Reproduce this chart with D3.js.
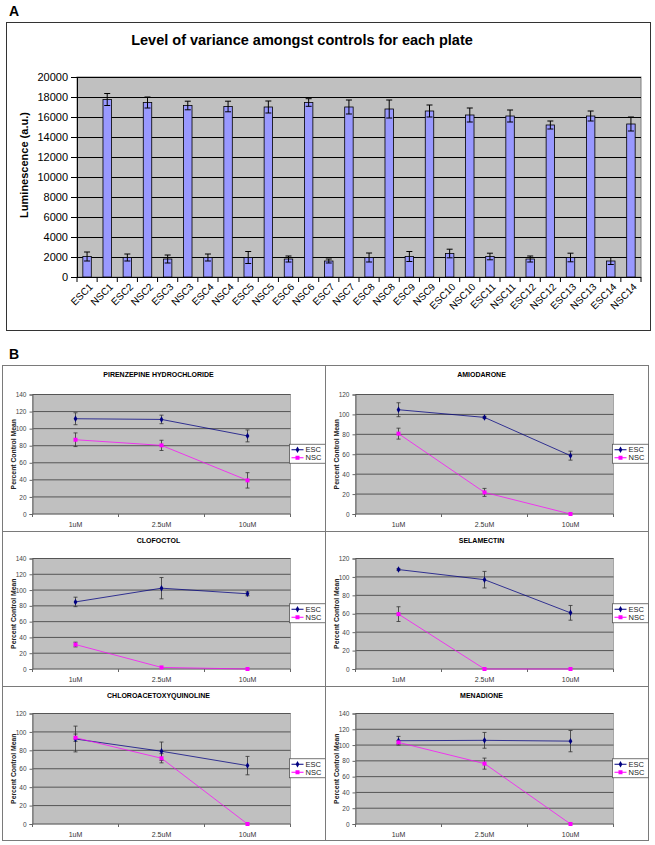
<!DOCTYPE html>
<html><head><meta charset="utf-8">
<script src="https://cdn.jsdelivr.net/npm/d3@7"></script>
<style>
body{margin:0;background:#fff}
svg{display:block}
text{font-family:"Liberation Sans",Arial,sans-serif}
</style>
</head><body>
<svg id="c" width="655" height="845"></svg>
<script>
// ---------- Panel A data ----------
const plateCategories = ["ESC1","NSC1","ESC2","NSC2","ESC3","NSC3","ESC4","NSC4","ESC5","NSC5","ESC6","NSC6","ESC7","NSC7","ESC8","NSC8","ESC9","NSC9","ESC10","NSC10","ESC11","NSC11","ESC12","NSC12","ESC13","NSC13","ESC14","NSC14"];
const plateValues = [2050,17750,1950,17450,1800,17150,1950,17050,1950,17000,1800,17450,1600,17000,1950,16800,2050,16600,2350,16200,2050,16100,1800,15200,1950,16100,1600,15300];
const plateErrors = [450,600,350,550,400,430,350,530,600,600,300,380,200,700,450,900,500,600,430,700,330,600,300,400,430,500,350,700];
const plateTicks = [0,2000,4000,6000,8000,10000,12000,14000,16000,18000,20000];

// ---------- Panel B data ----------
const drugs = ["PIRENZEPINE HYDROCHLORIDE","AMIODARONE","CLOFOCTOL","SELAMECTIN","CHLOROACETOXYQUINOLINE","MENADIONE"];
const doses = ["1uM","2.5uM","10uM"];
const seriesNames = ["ESC","NSC"];
const yMaxB = [140,120,140,120,120,140];
const escB = [[111.6,110.8,91.5],[104.7,97,58.6],[85,102.4,95.3],[108,97,61],[92.3,79,63.4],[105.5,106,105]];
const escErrB = [[7,5,7],[7,1,4.5],[6,13.5,2.5],[1,9,8],[14,10,10],[5.5,10,13.5]];
const nscB = [[87,80.4,39.4],[80.7,21.7,0],[31,2,0],[59.6,0,0],[93.7,71.4,0],[103.4,76.5,0]];
const nscErrB = [[8,6,9],[5.5,4,0],[3,0,0],[8,0,0],[4,5,0],[2,7,0]];

const svg = d3.select("#c");

// ================= PANEL A =================
svg.append("text").attr("x",9).attr("y",16).attr("font-size",14).attr("font-weight","bold").text("A");
svg.append("rect").attr("x",6.5).attr("y",22.5).attr("width",644).attr("height",308)
  .attr("fill","#fff").attr("stroke","#333");
svg.append("text").attr("x",302).attr("y",45).attr("text-anchor","middle")
  .attr("font-size",14.5).attr("font-weight","bold").text("Level of variance amongst controls for each plate");

const aL=77, aR=641, aT=77, aB=277;
const xA = d3.scaleBand().domain(plateCategories).range([aL,aR]).paddingInner(0.58).paddingOuter(0.29);
const xAcat = d3.scaleBand().domain(plateCategories).range([aL,aR]);
const yA = d3.scaleLinear().domain([0,20000]).range([aB,aT]);

svg.append("rect").attr("x",aL).attr("y",aT).attr("width",aR-aL).attr("height",aB-aT)
  .attr("fill","#c0c0c0").attr("stroke","#808080");
svg.append("g").selectAll("line").data(plateTicks.slice(1)).join("line")
  .attr("x1",aL).attr("x2",aR).attr("y1",d=>Math.round(yA(d))+0.5).attr("y2",d=>Math.round(yA(d))+0.5)
  .attr("stroke","#000");

const gA = svg.append("g");
gA.selectAll("rect.bar").data(plateCategories).join("rect").attr("class","bar")
  .attr("x",d=>xA(d)).attr("width",xA.bandwidth())
  .attr("y",(d,i)=>yA(plateValues[i])).attr("height",(d,i)=>aB-yA(plateValues[i]))
  .attr("fill","#9999ff").attr("stroke","#000").attr("stroke-width",0.8);
// error bars
plateCategories.forEach((c,i)=>{
  const cx = xA(c)+xA.bandwidth()/2;
  const y1 = yA(plateValues[i]+plateErrors[i]), y2 = yA(plateValues[i]-plateErrors[i]);
  gA.append("line").attr("x1",cx).attr("x2",cx).attr("y1",y1).attr("y2",y2).attr("stroke","#000");
  [y1,y2].forEach(y=>gA.append("line").attr("x1",cx-3).attr("x2",cx+3).attr("y1",y).attr("y2",y).attr("stroke","#000"));
});
// y axis
const yAxisA = svg.append("g").attr("transform",`translate(${aL},0)`)
  .call(d3.axisLeft(yA).tickValues(plateTicks).tickFormat(d3.format("d")).tickSize(6).tickPadding(3));
yAxisA.select(".domain").attr("stroke","#000");
yAxisA.selectAll("text").attr("font-size",11).attr("fill","#000").attr("font-family","Liberation Sans, Arial, sans-serif");
// x axis
svg.append("line").attr("x1",aL).attr("x2",aR).attr("y1",aB+0.5).attr("y2",aB+0.5).attr("stroke","#000");
svg.append("g").selectAll("line").data(plateCategories.concat(["_end"])).join("line")
  .attr("x1",(d,i)=>aL+i*xAcat.bandwidth()).attr("x2",(d,i)=>aL+i*xAcat.bandwidth())
  .attr("y1",aB).attr("y2",aB+5).attr("stroke","#000");
svg.append("g").selectAll("text").data(plateCategories).join("text")
  .attr("transform",d=>`translate(${xAcat(d)+xAcat.bandwidth()/2+4},${aB+8}) rotate(-45)`)
  .attr("text-anchor","end").attr("dy","0.35em").attr("font-size",10).text(d=>d);
svg.append("text").attr("transform",`translate(28,165) rotate(-90)`).attr("text-anchor","middle")
  .attr("font-size",11).attr("font-weight","bold").text("Luminescence (a.u.)");

// ================= PANEL B =================
svg.append("text").attr("x",9).attr("y",359).attr("font-size",14).attr("font-weight","bold").text("B");
const colX = [2.5, 325.5];
const colW = [323, 323];
const rowY = [365.5, 531.5, 686.5, 840.5];
const escColor = "#000080", nscColor = "#ff00ff";

drugs.forEach((name,i)=>{
  const c = i%2, r = Math.floor(i/2);
  const x0 = colX[c], y0 = rowY[r], y1b = rowY[r+1];
  const g = svg.append("g");
  g.append("rect").attr("x",x0).attr("y",y0).attr("width",colW[c]).attr("height",y1b-y0)
    .attr("fill","#fff").attr("stroke","#7a7a7a");
  const pl = x0+30, pr = x0+288;
  const pt = y0 + (r===0?29:27), pb = y1b - (r===2?16.5:17.5);
  const x = d3.scaleBand().domain(doses).range([pl,pr]);
  const y = d3.scaleLinear().domain([0,yMaxB[i]]).range([pb,pt]);
  const ticks = d3.range(0,yMaxB[i]+1,20);

  g.append("text").attr("x",x0+156).attr("y",y0+9).attr("dy","0.35em").attr("text-anchor","middle")
    .attr("font-size",7).attr("font-weight","bold").text(name);
  g.append("rect").attr("x",pl).attr("y",pt).attr("width",pr-pl).attr("height",pb-pt)
    .attr("fill","#c0c0c0").attr("stroke","#808080").attr("stroke-width",0.6);
  g.append("g").selectAll("line").data(ticks.slice(1)).join("line")
    .attr("x1",pl).attr("x2",pr).attr("y1",d=>y(d)).attr("y2",d=>y(d))
    .attr("stroke","#555").attr("stroke-width",1);
  // axes
  const ya = g.append("g").attr("transform",`translate(${pl},0)`)
    .call(d3.axisLeft(y).tickValues(ticks).tickSize(3).tickPadding(3));
  ya.select(".domain").attr("stroke","#666");
  ya.selectAll("line").attr("stroke","#666");
  ya.selectAll("text").attr("font-size",6.5).attr("fill","#444").attr("font-family","Liberation Sans, Arial, sans-serif");
  g.append("line").attr("x1",pl).attr("x2",pr).attr("y1",pb).attr("y2",pb).attr("stroke","#666");
  g.append("g").selectAll("line").data([0,1,2,3]).join("line")
    .attr("x1",d=>pl+d*x.bandwidth()).attr("x2",d=>pl+d*x.bandwidth())
    .attr("y1",pb).attr("y2",pb+3).attr("stroke","#666");
  g.append("g").selectAll("text").data(doses).join("text")
    .attr("x",d=>x(d)+x.bandwidth()/2).attr("y",pb+11).attr("dy","0.35em").attr("text-anchor","middle")
    .attr("font-size",7).attr("fill","#333").text(d=>d);
  g.append("text").attr("transform",`translate(${x0+11},${(pt+pb)/2}) rotate(-90)`).attr("dy","0.35em")
    .attr("text-anchor","middle").attr("font-size",6.8).attr("font-weight","bold").attr("fill","#222")
    .text("Percent Control Mean");

  const series = [{v:escB[i],e:escErrB[i],col:escColor},{v:nscB[i],e:nscErrB[i],col:nscColor}];
  const cx = d => x(d)+x.bandwidth()/2;
  // error bars
  series.forEach(s=>{
    doses.forEach((d,j)=>{
      if(s.e[j]<=0) return;
      const ya1=y(s.v[j]+s.e[j]), ya2=y(s.v[j]-s.e[j]);
      g.append("line").attr("x1",cx(d)).attr("x2",cx(d)).attr("y1",ya1).attr("y2",ya2).attr("stroke","#333").attr("stroke-width",0.8);
      [ya1,ya2].forEach(yy=>g.append("line").attr("x1",cx(d)-2).attr("x2",cx(d)+2).attr("y1",yy).attr("y2",yy).attr("stroke","#333").attr("stroke-width",0.8));
    });
  });
  series.forEach((s,k)=>{
    const line = d3.line().x(d=>cx(d)).y((d,j)=>y(s.v[j]));
    g.append("path").datum(doses).attr("d",line).attr("fill","none").attr("stroke",s.col).attr("stroke-width",k===0?1:0.9).attr("opacity",k===0?0.75:0.8);
  });
  // markers
  g.append("g").selectAll("path").data(doses).join("path")
    .attr("transform",(d,j)=>`translate(${cx(d)},${y(escB[i][j])})`)
    .attr("d",d3.symbol(d3.symbolDiamond,12)).attr("fill",escColor);
  g.append("g").selectAll("rect").data(doses).join("rect")
    .attr("x",(d)=>cx(d)-2).attr("y",(d,j)=>y(nscB[i][j])-2).attr("width",4).attr("height",4).attr("fill",nscColor);

  // legend
  const lx = pr-1, ly = (pt+pb)/2-10;
  const lg = g.append("g").attr("transform",`translate(${lx},${ly})`);
  lg.append("rect").attr("width",36).attr("height",19).attr("fill","#fff").attr("stroke","#555").attr("stroke-width",0.8);
  seriesNames.forEach((n,k)=>{
    const yy = 5.5+k*8;
    lg.append("line").attr("x1",2).attr("x2",14).attr("y1",yy).attr("y2",yy).attr("stroke",k===0?escColor:nscColor);
    if(k===0) lg.append("path").attr("transform",`translate(8,${yy})`).attr("d",d3.symbol(d3.symbolDiamond,12)).attr("fill",escColor);
    else lg.append("rect").attr("x",6).attr("y",yy-2).attr("width",4).attr("height",4).attr("fill",nscColor);
    lg.append("text").attr("x",16).attr("y",yy).attr("dy","0.35em").attr("font-size",7.5).attr("fill","#222").text(n);
  });
});
</script>
</body></html>
